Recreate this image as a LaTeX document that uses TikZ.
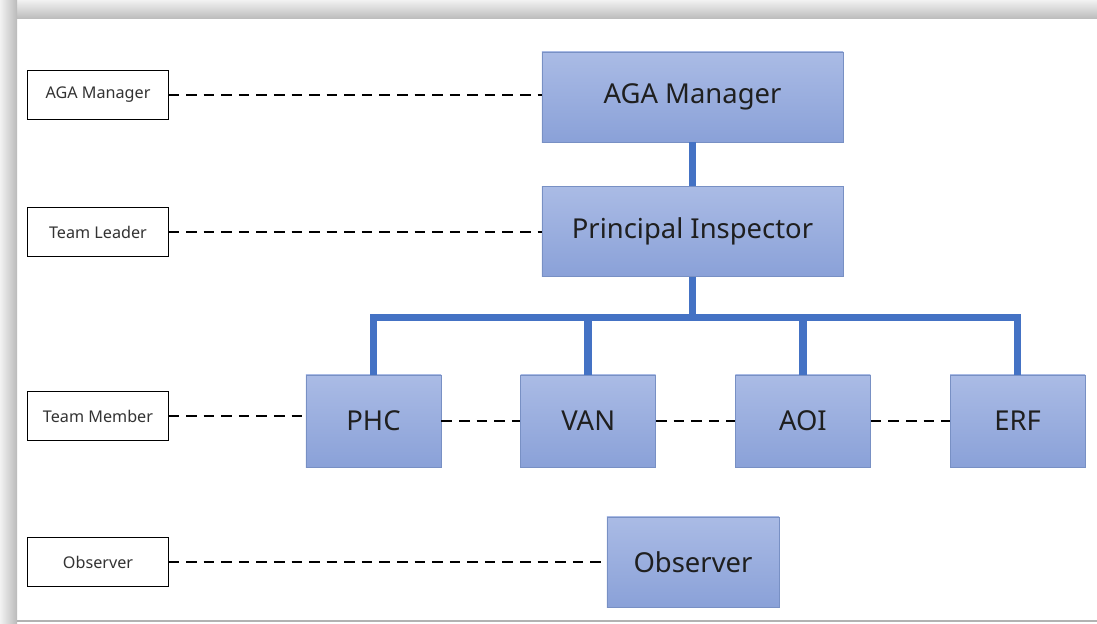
\documentclass[tikz,border=0pt]{standalone}
\usepackage{fontspec}
\setmainfont{Noto Sans}
\usepackage{xcolor}
\usepackage{tikz}
\usetikzlibrary{positioning}
\definecolor{boxtop}{HTML}{AABBE5}
\definecolor{boxbot}{HTML}{8AA1D8}
\definecolor{boxline}{HTML}{7890C4}
\definecolor{linkblue}{HTML}{4472C4}

\begin{document}
\begin{tikzpicture}[x=0.025cm, y=-0.025cm,
  rolebox/.style={draw=boxline, line width=0.6pt, top color=boxtop, bottom color=boxbot, text=black!88, font=\fontsize{19.5}{22}\selectfont},
  bigbox/.style={rolebox, minimum width=7.525cm, minimum height=2.25cm},
  memberbox/.style={rolebox, minimum width=3.375cm, minimum height=2.3cm},
  tagbox/.style={draw, line width=0.7pt, fill=white, minimum width=3.5cm, minimum height=1.225cm, text=black!80, font=\fontsize{11.5}{13}\selectfont},
  level/.style={line width=1.7pt, dash pattern=on 7.5pt off 5pt},
  link/.style={linkblue, line width=5.5pt}]
% page frame with its shadow
\useasboundingbox (0,0) rectangle (1097,624);
\fill[white] (0,0) rectangle (1097,624);
\shade[top color=black!5, bottom color=black!27] (0,0) rectangle (1097,19);
\shade[left color=black!5, right color=black!27] (0,0) rectangle (17,624);
\draw[black!30, line width=1pt] (17,621) -- (1097,621);

% org chart
\node[bigbox] (mgr) at (692.5,97) {AGA Manager};
\node[bigbox] (pi) at (692.5,231.5) {Principal Inspector};
\node[memberbox] (phc) at (373.5,421) {PHC};
\node[memberbox, right=1.97cm of phc] (van) {VAN};
\node[memberbox, right=1.97cm of van] (aoi) {AOI};
\node[memberbox, right=1.97cm of aoi] (erf) {ERF};
\node[rolebox, minimum width=4.3cm, minimum height=2.25cm] (obs) at (693,562) {Observer};

% level tags
\node[tagbox] (tmgr) at (98,95) {AGA Manager};
\node[tagbox] (tlead) at (98,232) {Team Leader};
\node[tagbox] (tmem) at (98,416) {Team Member};
\node[tagbox] (tobs) at (98,562) {Observer};

\coordinate (bus) at (0,317.5);
\draw[link] (mgr) -- (pi);
\draw[link] (pi.south) -- (pi.south |- bus);
\draw[link] (phc.north) -- (phc.north |- bus) -- (erf.north |- bus) -- (erf.north);
\draw[link] (van.north) -- (van.north |- bus);
\draw[link] (aoi.north) -- (aoi.north |- bus);

\draw[level] (tmgr.east) -- (tmgr.east -| mgr.west);
\draw[level] (tlead.east) -- (tlead.east -| pi.west);
\draw[level] (tmem.east) -- (tmem.east -| phc.west);
\draw[level] (phc) -- (van);
\draw[level] (van) -- (aoi);
\draw[level] (aoi) -- (erf);
\draw[level] (tobs.east) -- (tobs.east -| obs.west);
\end{tikzpicture}
\end{document}
